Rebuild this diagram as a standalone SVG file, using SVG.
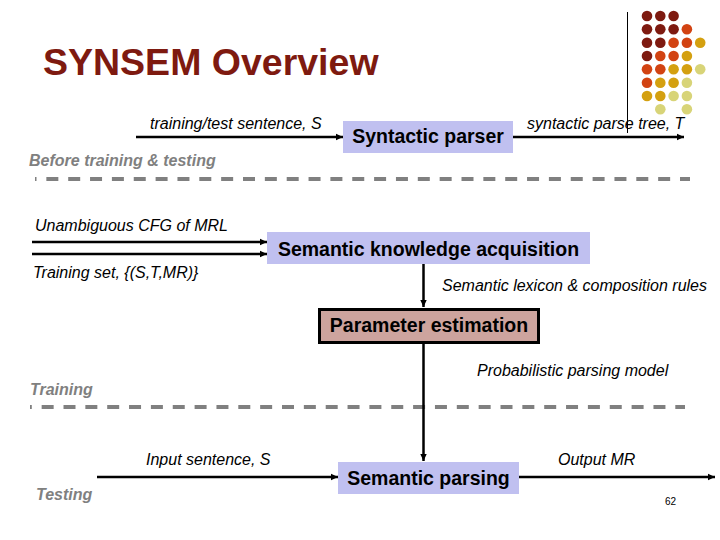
<svg xmlns="http://www.w3.org/2000/svg" width="720" height="540" viewBox="0 0 720 540">
<defs>
<marker id="ah" markerWidth="8" markerHeight="8" refX="7" refY="4" orient="auto" markerUnits="userSpaceOnUse">
<path d="M0,0.8 L7,4 L0,7.2 Z" fill="#000"/>
</marker>
<style>
.lbl{font-family:"Liberation Sans",Arial,sans-serif;font-style:italic;font-size:16px;fill:#000}
.sec{font-family:"Liberation Sans",Arial,sans-serif;font-style:italic;font-weight:bold;font-size:16px;fill:#808080}
.btxt{font-family:"Liberation Sans",Arial,sans-serif;font-weight:bold;font-size:19.5px;fill:#000;text-anchor:middle}
.blue{fill:#C0C0F0;stroke:none}
.rose{fill:#CDA49E;stroke:#000;stroke-width:3}
.conn{stroke:#000;stroke-width:2.5;fill:none;marker-end:url(#ah)}
.dash{stroke:#808080;stroke-width:4;stroke-dasharray:12 9.85;fill:none}
</style>
</defs>
<rect width="720" height="540" fill="#fff"/>
<g id="decoration">
<line x1="627.5" y1="12" x2="627.5" y2="133" stroke="#000" stroke-width="1"/>
<g fill="#7E1A10">
<circle cx="647" cy="16" r="5.3"/><circle cx="660.3" cy="16" r="5.3"/><circle cx="673.6" cy="16" r="5.3"/>
<circle cx="647" cy="29.3" r="5.3"/><circle cx="660.3" cy="29.3" r="5.3"/><circle cx="673.6" cy="29.3" r="5.3"/>
<circle cx="647" cy="42.7" r="5.3"/><circle cx="660.3" cy="42.7" r="5.3"/>
<circle cx="647" cy="56" r="5.3"/>
</g>
<g fill="#D24312">
<circle cx="686.9" cy="29.3" r="5.3"/>
<circle cx="673.6" cy="42.7" r="5.3"/><circle cx="686.9" cy="42.7" r="5.3"/>
<circle cx="660.3" cy="56" r="5.3"/><circle cx="673.6" cy="56" r="5.3"/>
<circle cx="647" cy="69.3" r="5.3"/><circle cx="660.3" cy="69.3" r="5.3"/>
<circle cx="647" cy="82.7" r="5.3"/>
</g>
<g fill="#D4A010">
<circle cx="700.2" cy="42.7" r="5.3"/>
<circle cx="686.9" cy="56" r="5.3"/>
<circle cx="673.6" cy="69.3" r="5.3"/><circle cx="686.9" cy="69.3" r="5.3"/>
<circle cx="660.3" cy="82.7" r="5.3"/><circle cx="673.6" cy="82.7" r="5.3"/>
<circle cx="647" cy="96" r="5.3"/><circle cx="660.3" cy="96" r="5.3"/>
</g>
<g fill="#D8D478">
<circle cx="700.2" cy="69.3" r="5.3"/>
<circle cx="686.9" cy="82.7" r="5.3"/>
<circle cx="673.6" cy="96" r="5.3"/><circle cx="686.9" cy="96" r="5.3"/>
<circle cx="660.3" cy="109.3" r="5.3"/><circle cx="686.9" cy="109.3" r="5.3"/>
</g>
</g>
<text x="43" y="75" font-family="'Liberation Sans',Arial,sans-serif" font-weight="bold" font-size="37.5" fill="#7E1A10">SYNSEM Overview</text>
<g id="dividers">
<line class="dash" x1="35" y1="179" x2="690" y2="179" stroke-dashoffset="10.5"/>
<line class="dash" x1="30" y1="407" x2="685" y2="407" stroke-dashoffset="10.2"/>
</g>
<g id="connectors">
<line class="conn" x1="136" y1="137" x2="343" y2="137"/>
<line class="conn" x1="513" y1="137" x2="684" y2="137"/>
<line class="conn" x1="32" y1="242" x2="267" y2="242"/>
<line class="conn" x1="32" y1="254" x2="267" y2="254"/>
<line class="conn" x1="423.5" y1="264" x2="423.5" y2="307"/>
<line class="conn" x1="423.5" y1="344" x2="423.5" y2="461"/>
<line class="conn" x1="97" y1="477" x2="338" y2="477"/>
<line class="conn" x1="519" y1="477" x2="715" y2="477"/>
</g>
<g id="syntactic-parser">
<rect class="blue" x="343" y="121" width="170" height="32"/>
<text class="btxt" x="428" y="143">Syntactic parser</text>
</g>
<g id="semantic-knowledge-acquisition">
<rect class="blue" x="267" y="232" width="323" height="32"/>
<text class="btxt" x="428.5" y="256">Semantic knowledge acquisition</text>
</g>
<g id="parameter-estimation">
<rect class="rose" x="319.5" y="309.5" width="219" height="33"/>
<text class="btxt" x="429" y="332">Parameter estimation</text>
</g>
<g id="semantic-parsing">
<rect class="blue" x="338" y="462" width="181" height="32"/>
<text class="btxt" x="428.5" y="485">Semantic parsing</text>
</g>
<g id="labels">
<text class="lbl" x="150" y="129">training/test sentence, S</text>
<text class="lbl" x="527" y="129">syntactic parse tree, T</text>
<text class="sec" x="29" y="166">Before training &amp; testing</text>
<text class="lbl" x="35" y="231">Unambiguous CFG of MRL</text>
<text class="lbl" x="33" y="278">Training set, {(S,T,MR)}</text>
<text class="lbl" x="442" y="291">Semantic lexicon &amp; composition rules</text>
<text class="lbl" x="477" y="376">Probabilistic parsing model</text>
<text class="sec" x="30" y="395">Training</text>
<text class="lbl" x="146" y="465">Input sentence, S</text>
<text class="lbl" x="558" y="465">Output MR</text>
<text class="sec" x="36" y="500">Testing</text>
<text x="665" y="505" font-family="'Liberation Sans',Arial,sans-serif" font-size="10" fill="#000">62</text>
</g>
</svg>
